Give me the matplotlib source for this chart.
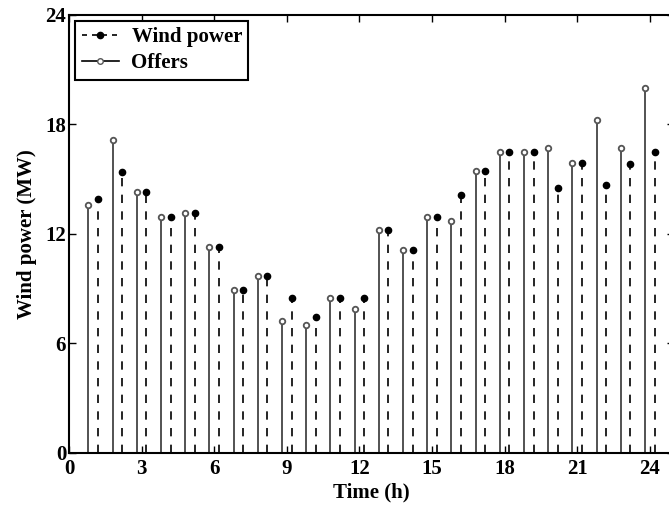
import numpy as np
import matplotlib.pyplot as plt
from matplotlib.lines import Line2D
from matplotlib.legend_handler import HandlerLine2D

plt.rcParams['font.family'] = ['Liberation Serif', 'DejaVu Serif']
plt.rcParams['font.weight'] = 'bold'

# Hourly wind power and offers (MW)
hours = np.arange(1, 25)
wind_power = [13.88, 15.38, 14.30, 12.92, 13.11, 11.27, 8.90, 9.67, 8.47, 7.42,
              8.50, 8.47, 12.22, 11.11, 12.90, 14.10, 15.41, 16.49, 16.49, 14.48,
              15.86, 14.67, 15.82, 16.49]
offers = [13.55, 17.11, 14.30, 12.92, 13.11, 11.27, 8.90, 9.67, 7.24, 6.99,
          8.50, 7.88, 12.22, 11.11, 12.90, 12.68, 15.41, 16.49, 16.49, 16.67,
          15.89, 18.22, 16.67, 19.99]


class EndMarkerHandler(HandlerLine2D):
    # put the legend marker at the right end of the sample line
    def get_xdata(self, legend, xdescent, ydescent, width, height, fontsize):
        xdata = np.array([-xdescent, -xdescent + width])
        return xdata, np.array([-xdescent + width])


fig = plt.figure(figsize=(6.69, 5.13), dpi=100)
ax = fig.add_axes([69 / 669, 60 / 513, 605 / 669, 438.5 / 513])

off_x = hours - 0.2
wind_x = hours + 0.2

ax.vlines(off_x, 0, offers, colors='#444444', linewidth=1.3)
ax.plot(off_x, offers, 'o', markersize=4, markerfacecolor='white',
        markeredgecolor='#555555', markeredgewidth=1.3)

ax.vlines(wind_x, 0, wind_power, colors='black', linewidth=1.2,
          linestyles=(0, (5, 5)))
ax.plot(wind_x, wind_power, 'o', markersize=4.5, color='black')

ax.set_xlim(0, 25)
ax.set_ylim(0, 24)
ax.set_xticks(np.arange(0, 25, 3))
ax.set_yticks(np.arange(0, 25, 6))
ax.tick_params(direction='in', top=True, right=True, length=5, width=1,
               labelsize=15)
ax.tick_params(axis='x', pad=4)
ax.tick_params(axis='y', pad=2)
for sp in ax.spines.values():
    sp.set_linewidth(1.5)

ax.set_xlabel('Time (h)', fontsize=15, fontweight='bold', labelpad=3)
ax.set_ylabel('Wind power (MW)', fontsize=15, fontweight='bold', labelpad=6)

h_wind = Line2D([], [], color='black', linestyle=(0, (3, 3)), linewidth=1.2,
                marker='o', markersize=4.5)
h_off = Line2D([], [], color='black', linestyle='-', linewidth=1.2,
               marker='o', markersize=4, markerfacecolor='white',
               markeredgecolor='#555555')
leg = ax.legend([h_wind, h_off], ['Wind power', 'Offers'], loc='upper left',
                fontsize=15, fancybox=False, framealpha=1, edgecolor='black',
                borderaxespad=0.3, handlelength=1.8, handletextpad=0.6,
                borderpad=0.3, labelspacing=0.3,
                handler_map={Line2D: EndMarkerHandler()})
leg.get_frame().set_linewidth(1.5)

fig.savefig('out.png', dpi=100)
